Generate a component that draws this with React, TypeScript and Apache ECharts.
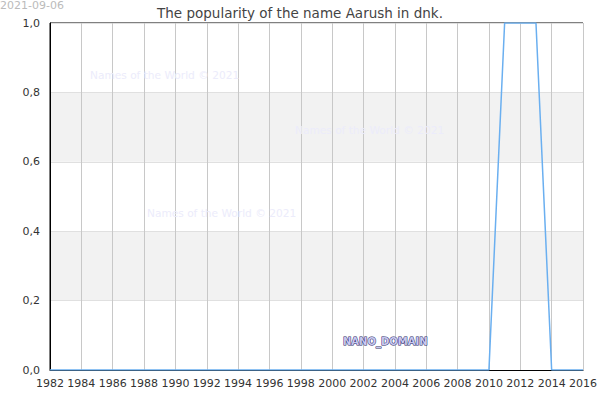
import * as echarts from 'echarts';
import { useEffect, useRef } from 'react';

const years = [
  1982, 1983, 1984, 1985, 1986, 1987, 1988, 1989, 1990, 1991, 1992, 1993, 1994, 1995, 1996, 1997, 1998,
  1999, 2000, 2001, 2002, 2003, 2004, 2005, 2006, 2007, 2008, 2009, 2010, 2011, 2012, 2013, 2014, 2015, 2016,
];
const popularity = [
  0, 0, 0, 0, 0, 0, 0, 0, 0, 0, 0, 0, 0, 0, 0, 0, 0,
  0, 0, 0, 0, 0, 0, 0, 0, 0, 0, 0, 0, 1, 1, 1, 0, 0, 0,
];
const titleText = 'The popularity of the name Aarush in dnk.';
const dateText = '2021-09-06';
const watermarkText = 'Names of the World © 2021';

const font = '"DejaVu Sans", sans-serif';

export default function App() {
  const elRef = useRef<HTMLDivElement | null>(null);

  useEffect(() => {
    if (!elRef.current) return;
    const chart = echarts.init(elRef.current, undefined, { renderer: 'svg' });

    const watermark = (x: number, y: number) => ({
      type: 'text',
      x,
      y,
      z: 1,
      style: { text: watermarkText, fill: '#ececfb', font: `10.6px ${font}` },
    });

    chart.setOption({
      animation: false,
      textStyle: { fontFamily: font },
      title: {
        text: titleText,
        left: 'center',
        top: 1,
        textStyle: { fontSize: 13.5, fontWeight: 'normal', color: '#444' },
      },
      grid: { left: 50, right: 15, top: 23, bottom: 30, show: true, borderColor: '#000', borderWidth: 1 },
      xAxis: {
        type: 'value',
        min: 1982,
        max: 2016,
        interval: 2,
        axisLine: { show: true, lineStyle: { color: '#000' } },
        axisTick: { show: false },
        axisLabel: {
          color: '#333',
          fontSize: 11,
          margin: 8,
          showMinLabel: true,
          showMaxLabel: true,
          hideOverlap: false,
          formatter: (v: number) => String(v),
        },
        splitLine: { show: true, lineStyle: { color: '#c8c8c8' } },
      },
      yAxis: {
        type: 'value',
        min: 0,
        max: 1,
        interval: 0.2,
        axisLine: { show: true, lineStyle: { color: '#000' } },
        axisTick: { show: false },
        axisLabel: {
          color: '#333',
          fontSize: 11,
          margin: 10,
          formatter: (v: number) => v.toFixed(1).replace('.', ','),
        },
        splitLine: { show: true, lineStyle: { color: '#e0e0e0' } },
        splitArea: { show: true, areaStyle: { color: ['#ffffff', '#f2f2f2'] } },
      },
      graphic: [
        {
          type: 'text',
          x: 0,
          y: 0,
          style: { text: dateText, fill: '#bbb', font: `11px ${font}` },
        },
        watermark(90, 69),
        watermark(295, 124),
        watermark(147, 207),
        {
          type: 'text',
          x: 343,
          y: 336,
          z: 10,
          style: {
            text: 'NANO_DOMAIN',
            fill: '#c8c8f0',
            stroke: '#2a2a66',
            lineWidth: 1,
            font: `bold 10px ${font}`,
          },
        },
      ],
      series: [
        {
          type: 'line',
          data: years.map((y, i) => [y, popularity[i]]),
          showSymbol: false,
          lineStyle: { color: '#6aaff0', width: 1.5 },
          itemStyle: { color: '#6aaff0' },
          z: 5,
        },
      ],
    });

    return () => chart.dispose();
  }, []);

  return (
    <div
      ref={elRef}
      style={{ position: 'absolute', left: 0, top: 0, width: 600, height: 400 }}
    />
  );
}
